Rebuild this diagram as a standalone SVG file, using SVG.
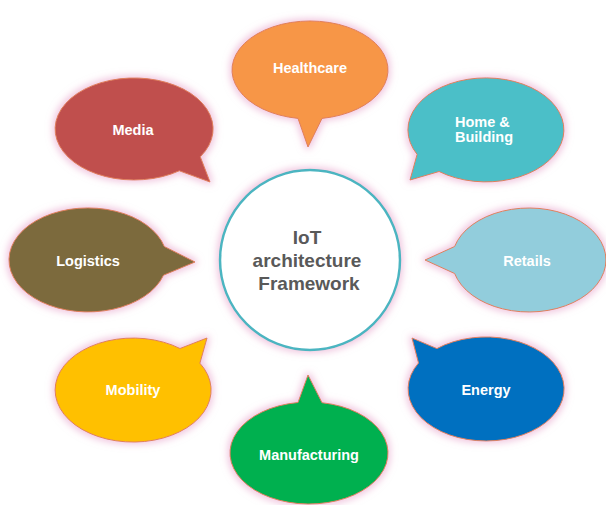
<svg xmlns="http://www.w3.org/2000/svg" width="606" height="505" viewBox="0 0 606 505">
<defs>
<filter id="glow" x="-20%" y="-20%" width="140%" height="140%">
<feMorphology in="SourceAlpha" operator="dilate" radius="2" result="d"/>
<feGaussianBlur in="d" stdDeviation="3.5" result="b"/>
<feFlood flood-color="#E59AC6" flood-opacity="0.55"/>
<feComposite in2="b" operator="in" result="g"/>
<feMerge><feMergeNode in="g"/><feMergeNode in="SourceGraphic"/></feMerge>
</filter>
</defs>
<style>
.bub{stroke:#E0805A;stroke-width:1;filter:url(#glow)}
.lbl{font-family:"Liberation Sans",Arial,sans-serif;font-weight:bold;font-size:14.5px;fill:#FFFFFF;text-anchor:middle}
.ctr{font-family:"Liberation Sans",Arial,sans-serif;font-weight:bold;font-size:19px;fill:#595959;text-anchor:middle}
</style>
<rect width="606" height="505" fill="#FFFFFF"/>
<g id="connectors"></g>
<g id="healthcare">
<path class="bub" fill="#F79646" d="M 298,118.4 A 78 49 0 1 1 322,118.4 L 308,147 Z"/>
<text class="lbl" x="310" y="73">Healthcare</text>
</g>
<g id="home-building">
<path class="bub" fill="#4BBFC8" d="M 417.1,154.4 A 78 52 0 1 1 439.1,171.5 L 410,180 Z"/>
<text class="lbl" style="text-anchor:start" x="455" y="127">Home &amp;</text>
<text class="lbl" style="text-anchor:start" x="455" y="142">Building</text>
</g>
<g id="media">
<path class="bub" fill="#C0504D" d="M 179.3,170.8 A 79 51 0 1 1 200.3,156.8 L 210,182 Z"/>
<text class="lbl" x="133" y="135">Media</text>
</g>
<g id="logistics">
<path class="bub" fill="#7B6A3C" d="M 163.5,275.2 A 79 52 0 1 1 164.3,246.5 L 195,262 Z"/>
<text class="lbl" x="88" y="266">Logistics</text>
</g>
<g id="retails">
<path class="bub" fill="#92CDDC" d="M 454.6,246.5 A 77 52 0 1 1 454.6,273.5 L 425,260 Z"/>
<text class="lbl" x="527" y="266">Retails</text>
</g>
<g id="mobility">
<path class="bub" fill="#FFC000" d="M 199.9,363.2 A 78 52 0 1 1 180,348.5 L 207,338 Z"/>
<text class="lbl" x="133" y="395">Mobility</text>
</g>
<g id="energy">
<path class="bub" fill="#0070C0" d="M 436.9,348.6 A 78 52 0 1 1 418.5,363 L 412,338 Z"/>
<text class="lbl" x="486" y="395">Energy</text>
</g>
<g id="manufacturing">
<path class="bub" fill="#00B050" d="M 322,402.7 A 79 51 0 1 1 298,402.5 L 308,375 Z"/>
<text class="lbl" x="309" y="460">Manufacturing</text>
</g>
<g id="center">
<circle cx="310" cy="260" r="90" fill="#FFFFFF" stroke="#4BB5C1" stroke-width="2.5" filter="url(#glow)"/>
<text class="ctr" x="307" y="244">IoT</text>
<text class="ctr" x="307" y="267">architecture</text>
<text class="ctr" x="309" y="290">Framework</text>
</g>
</svg>
